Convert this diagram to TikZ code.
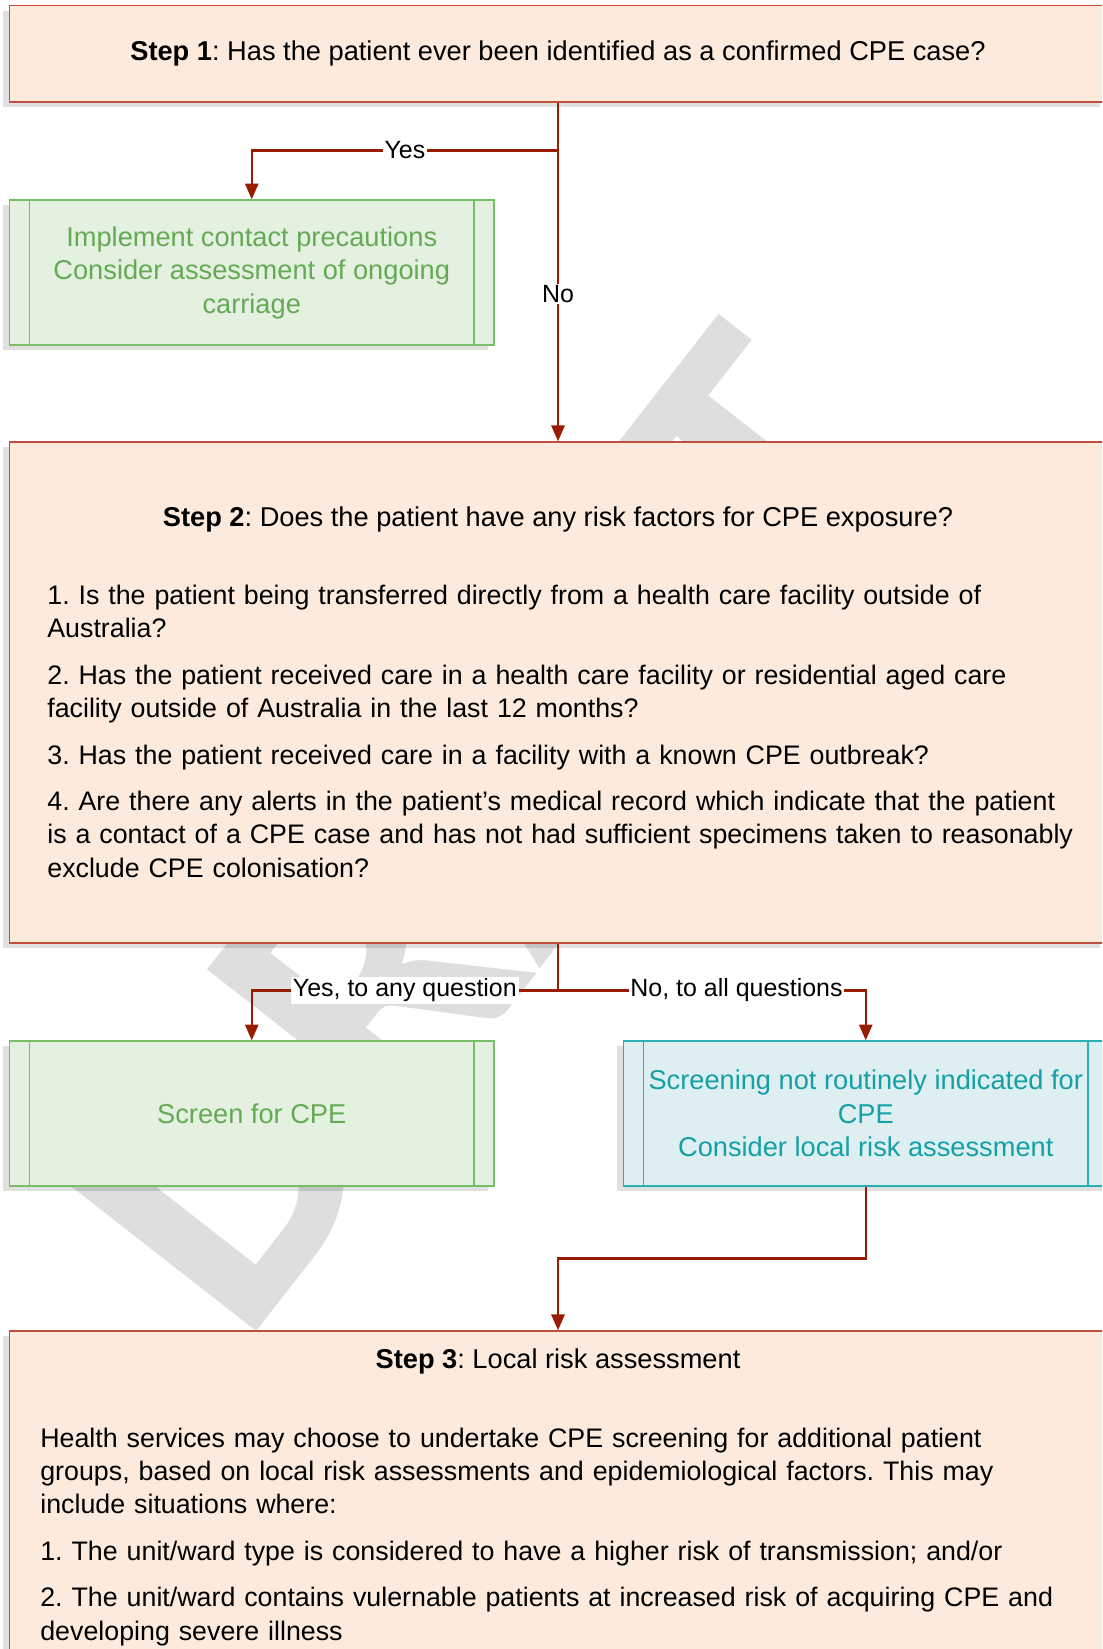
\documentclass[tikz,border=0pt]{standalone}
\usepackage{fontspec}
\setmainfont{Liberation Sans}
\newfontfamily\markfont{Carlito}
\usetikzlibrary{arrows.meta}
\usetikzlibrary{shadows}
\definecolor{stepfill}{HTML}{FCEBDD}
\definecolor{stepline}{HTML}{C0503C}
\definecolor{flowred}{HTML}{9A1C00}
\definecolor{okfill}{HTML}{E5F1E0}
\definecolor{okline}{HTML}{78BE69}
\definecolor{oktext}{HTML}{64AA55}
\definecolor{nofill}{HTML}{DEEFF2}
\definecolor{noline}{HTML}{28AFB4}
\definecolor{notext}{HTML}{14A0A5}
\definecolor{markgray}{HTML}{DEDEDE}
\newcommand{\boxfont}{\fontsize{15.5}{19.06}\selectfont}
\newcommand{\itemfont}{\fontsize{15.25}{19.06}\selectfont}
\newcommand{\edgefont}{\fontsize{14.2}{17}\selectfont}
\frenchspacing

\tikzset{
  shadowed/.style={drop shadow={shadow xshift=-3.5pt, shadow yshift=-3pt,
      fill=black, opacity=0.12}},
  stepbox/.style={draw=stepline, fill=stepfill, line width=0.85pt,
    minimum width=21.94cm, inner sep=0pt, font=\boxfont, shadowed},
  subproc/.style={line width=0.75pt, minimum width=9.69cm, minimum height=2.9cm,
    align=center, font=\boxfont, shadowed,
    path picture={
      \draw[#1, line width=0.75pt]
        ([xshift=0.4cm]path picture bounding box.north west) -- ([xshift=0.4cm]path picture bounding box.south west)
        ([xshift=-0.4cm]path picture bounding box.north east) -- ([xshift=-0.4cm]path picture bounding box.south east);
    }},
  screenbox/.style={subproc=okline, draw=okline, fill=okfill, text=oktext},
  skipbox/.style={subproc=noline, draw=noline, fill=nofill, text=notext},
  steptext/.style={font=\boxfont, inner sep=0pt},
  itemtext/.style={font=\itemfont, inner sep=0pt, anchor=base west, text width=21cm, align=left},
  flow/.style={draw=flowred, line width=1.3pt, -{Triangle[length=9pt,width=7.5pt]}},
  flowlabel/.style={fill=white, text=black, font=\edgefont, inner sep=1pt},
}

\begin{document}
\begin{tikzpicture}[x=0.02cm, y=-0.02cm]
  \useasboundingbox (0,0) rectangle (1102,1649);
  \clip (0,0) rectangle (1102,1649);

  % watermark
  \node[text=markgray, font=\markfont\bfseries\fontsize{230}{230}\selectfont,
    inner sep=0pt, anchor=base west, rotate=52] (mark) at (242.5,1350) {DRAFT};

  % step 1
  \node[stepbox, minimum height=1.926cm] (step1) at (558,53.85)
    {\textbf{Step 1}: Has the patient ever been identified as a confirmed CPE case?};
  \node[screenbox] (contact) at (251.75,272.5)
    {Implement contact precautions\\Consider assessment of ongoing\\carriage};

  % step 2
  \node[stepbox, minimum height=10.02cm] (step2) at (558,692.5) {};
  \node[steptext, anchor=base] (step2title) at (558,526)
    {\textbf{Step 2}: Does the patient have any risk factors for CPE exposure?};
  \node[itemtext] (risks) at (47,604.5)
    {1. Is the patient being transferred directly from a health care facility outside of\\
     Australia?\\[7.3pt]
     2. Has the patient received care in a health care facility or residential aged care\\
     facility outside of Australia in the last 12 months?\\[7.3pt]
     3. Has the patient received care in a facility with a known CPE outbreak?\\[7.3pt]
     4. Are there any alerts in the patient’s medical record which indicate that the patient\\
     is a contact of a CPE case and has not had sufficient specimens taken to reasonably\\
     exclude CPE colonisation?};
  \node[screenbox] (screen) at (251.75,1113.5) {Screen for CPE};
  \node[skipbox] (noscreen) at (865.75,1113.5)
    {Screening not routinely indicated for\\CPE\\Consider local risk assessment};

  % step 3
  \node[stepbox, minimum height=7.38cm] (step3) at (558,1515.5) {};
  \node[steptext, anchor=base] (step3title) at (558,1368)
    {\textbf{Step 3}: Local risk assessment};
  \node[itemtext] (local) at (40,1447)
    {Health services may choose to undertake CPE screening for additional patient\\
     groups, based on local risk assessments and epidemiological factors. This may\\
     include situations where:\\[7.3pt]
     1. The unit/ward type is considered to have a higher risk of transmission; and/or\\[7.3pt]
     2. The unit/ward contains vulernable patients at increased risk of acquiring CPE and\\
     developing severe illness};

  % connectors
  \coordinate (fork1) at (558,150.4);
  \coordinate (fork2) at (558,990.5);
  \coordinate (merge) at (558,1258.6);
  \draw[flow] (step1.south) -- node[flowlabel, pos=0.565] {No} (step2.north);
  \draw[flow] (fork1) -| node[flowlabel, pos=0.25] {Yes} (contact.north);
  \draw[flow] (step2.south) -- (fork2) -| node[flowlabel, pos=0.25] {Yes, to any question} (screen.north);
  \draw[flow] (fork2) -| node[flowlabel, pos=0.29] {No, to all questions} (noscreen.north);
  \draw[flow] (noscreen.south) |- (merge) -- (step3.north);
\end{tikzpicture}
\end{document}
